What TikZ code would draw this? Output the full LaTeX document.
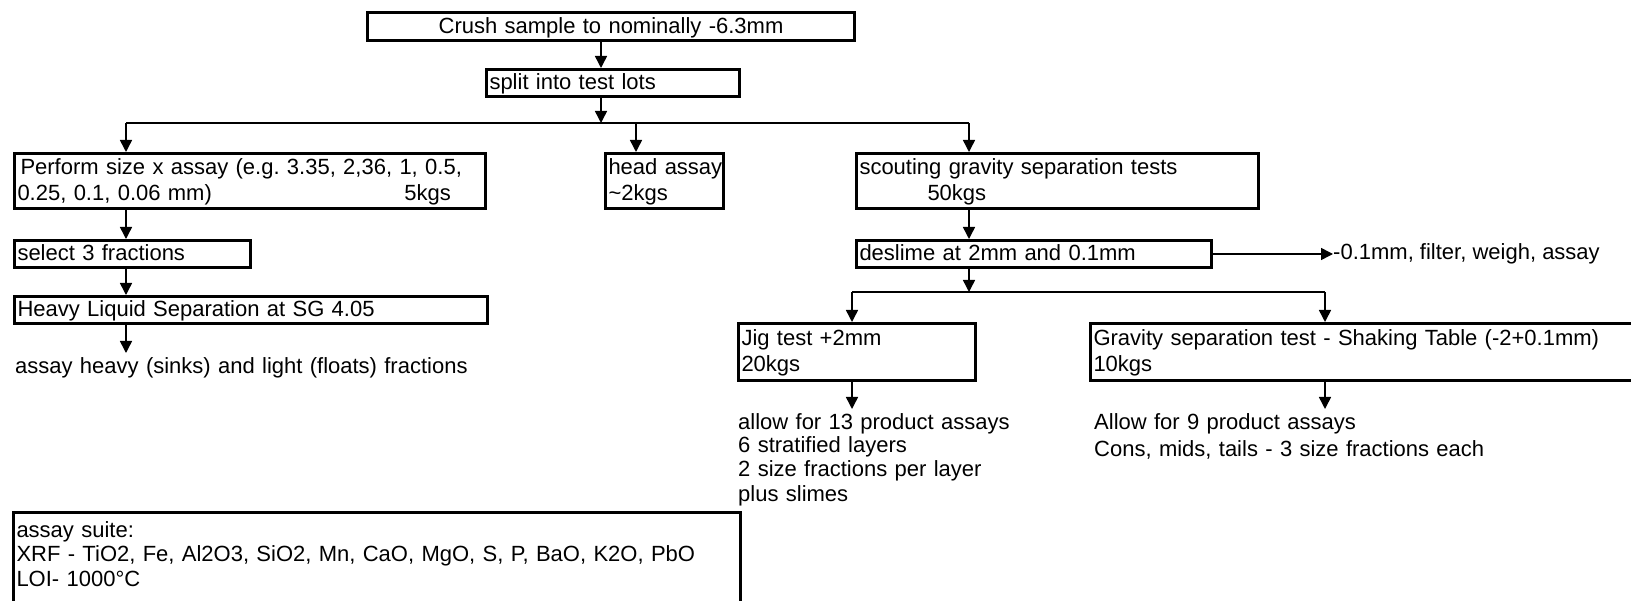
\documentclass[tikz,border=0pt]{standalone}
\usepackage{fontspec}
\setmainfont{Liberation Sans}
\usetikzlibrary{arrows.meta}

\newcommand{\flowfont}{\fontsize{22}{26}\selectfont\frenchspacing}
\newcommand{\listfont}{\fontsize{22}{23.5}\selectfont\frenchspacing}
\newcommand{\boxstrut}{\rule[-6pt]{0pt}{26pt}}

\tikzset{
  box/.style={draw, line width=3pt, anchor=north west, inner xsep=3pt, inner ysep=0pt,
    align=left, font=\flowfont, execute at begin node=\boxstrut, execute at end node=\boxstrut},
  note/.style={anchor=north west, inner sep=0pt, align=left, font=\listfont,
    execute at begin node=\boxstrut, execute at end node=\boxstrut},
  flow/.style={line width=1.5pt, -{Triangle[length=12pt,width=12pt]}},
  wire/.style={line width=1.5pt},
}

\begin{document}
\begin{tikzpicture}[x=1pt,y=-1pt]
  \useasboundingbox (0,0) rectangle (1631,601);

  \coordinate (trunk) at (601,0);
  \coordinate (bus1w) at (126,123);
  \coordinate (bus1e) at (969,123);
  \coordinate (headx) at (636,123);
  \coordinate (bus2w) at (852,292);
  \coordinate (bus2e) at (1325,292);

  \node[box, align=center, text width=481pt, minimum height=28pt] (crush) at (366,11) {Crush sample to nominally -6.3mm};
  \node[box, text width=247pt, minimum height=27pt] (split) at (485,68) {split into test lots};

  \node[box, text width=465pt, minimum height=55pt] (perform) at (13,152)
    {\hspace*{3pt}Perform size x assay (e.g. 3.35, 2,36, 1, 0.5,\\\makebox[387pt][l]{0.25, 0.1, 0.06 mm)}5kgs};
  \node[box, text width=112pt, minimum height=55pt] (head) at (604,152) {\mbox{head assay}\\\textasciitilde 2kgs};
  \node[box, text width=396pt, minimum height=55pt] (scout) at (855,152)
    {scouting gravity separation tests\\\hspace*{68pt}50kgs};

  \node[box, text width=230pt, minimum height=27pt] (select) at (13,239) {select 3 fractions};
  \node[box, text width=467pt, minimum height=27pt] (heavy) at (13,295) {Heavy Liquid Separation at SG 4.05};
  \node[note, text width=600pt] (sinks) at (15,353) {assay heavy (sinks) and light (floats) fractions};

  \node[box, text width=349pt, minimum height=27pt] (deslime) at (855,239) {deslime at 2mm and 0.1mm};
  \node[note, anchor=west] (fines) at (1333,252.5) {-0.1mm, filter, weigh, assay};

  \node[box, text width=231pt, minimum height=57pt] (jig) at (737,322) {Jig test +2mm\\20kgs};
  \node[box, text width=545pt, minimum height=57pt] (table) at (1089,322)
    {Gravity separation test - Shaking Table (-2+0.1mm)\\10kgs};

  \node[note, text width=300pt] (jigout) at (738,409)
    {allow for 13 product assays\\6 stratified layers\\2 size fractions per layer\\plus slimes};
  \node[note, text width=500pt] (tableout) at (1094,409)
    {Allow for 9 product assays\\Cons, mids, tails - 3 size fractions each};

  \node[box, font=\listfont, inner ysep=5pt, text width=721pt] (suite) at (12,511)
    {assay suite:\\XRF - TiO2, Fe, Al2O3, SiO2, Mn, CaO, MgO, S, P, BaO, K2O, PbO\\LOI- 1000°C\rule[-30pt]{0pt}{0pt}};

  \draw[flow] (crush.south -| trunk) -- (split.north -| trunk);
  \draw[flow] (split.south -| trunk) -- (trunk |- bus1w);
  \draw[wire] (bus1w) -- (bus1e);
  \draw[flow] (bus1w) -- (perform.north -| bus1w);
  \draw[flow] (headx) -- (head.north -| headx);
  \draw[flow] (bus1e) -- (scout.north -| bus1e);

  \draw[flow] (perform.south -| bus1w) -- (select.north -| bus1w);
  \draw[flow] (select.south -| bus1w) -- (heavy.north -| bus1w);
  \draw[flow] (heavy.south -| bus1w) -- (sinks.north -| bus1w);

  \draw[flow] (scout.south -| bus1e) -- (deslime.north -| bus1e);
  \draw[flow] (deslime.east) -- (fines.west |- deslime.east);
  \draw[flow] (deslime.south -| bus1e) -- (bus1e |- bus2w);
  \draw[wire] (bus2w) -- (bus2e);
  \draw[flow] (bus2w) -- (jig.north -| bus2w);
  \draw[flow] (bus2e) -- (table.north -| bus2e);
  \draw[flow] (jig.south -| bus2w) -- (jigout.north -| bus2w);
  \draw[flow] (table.south -| bus2e) -- (tableout.north -| bus2e);
\end{tikzpicture}
\end{document}
